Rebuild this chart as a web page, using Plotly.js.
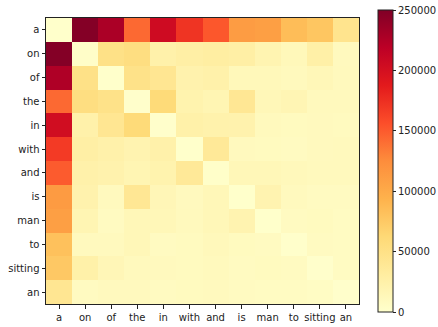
<!DOCTYPE html>
<html><head><meta charset="utf-8">
<script src="https://cdn.plot.ly/plotly-3.0.1.min.js"></script>
<style>html,body{margin:0;padding:0;background:#fff}#chart{width:438px;height:327px}</style>
</head><body><div id="chart"></div>
<script>
const words = ["a","on","of","the","in","with","and","is","man","to","sitting","an"];
const row_a       = [500,248000,228000,143000,205000,172000,152000,112000,110000,85000,78000,45000];
const row_on      = [248000,3000,50000,54000,24000,28000,30000,28000,19000,13000,26000,10000];
const row_of      = [226000,50000,500,48000,42000,22000,24000,13000,13000,11000,14000,11000];
const row_the     = [143000,54000,48000,1000,60000,21000,18000,40000,14000,17000,11000,11000];
const row_in      = [203000,24000,42000,60000,1000,25000,23000,22000,11000,9000,10000,9000];
const row_with    = [168000,28000,24000,20000,24000,500,37000,10000,9000,8000,10000,11000];
const row_and     = [150000,24000,22000,18000,21000,37000,2000,14000,14000,12000,11000,11000];
const row_is      = [113000,22000,10000,40000,15000,10000,14000,500,20000,10000,8000,8000];
const row_man     = [110000,18000,8000,14000,14000,11000,14000,20000,500,8000,9000,7000];
const row_to      = [82000,10000,10000,14000,8000,9000,12000,9000,8000,1000,8000,7000];
const row_sitting = [76000,25000,15000,11000,10000,9000,11000,8000,9000,8000,1000,7000];
const row_an      = [42000,8000,10000,10000,8000,9000,10000,8000,7000,7000,6000,1000];
const cbTicks = [0,50000,100000,150000,200000,250000];

const z = [row_a,row_on,row_of,row_the,row_in,row_with,row_and,row_is,row_man,row_to,row_sitting,row_an];
const ylorrd = [[0,'#ffffcc'],[0.125,'#ffeda0'],[0.25,'#fed976'],[0.375,'#feb24c'],[0.5,'#fd8d3c'],[0.625,'#fc4e2a'],[0.75,'#e31a1c'],[0.875,'#bd0026'],[1,'#800026']];
const font = {family:'DejaVu Sans, sans-serif', size:10, color:'#222'};

Plotly.newPlot('chart',[{
  type:'heatmap', x:words, y:words, z:z, zmin:0, zmax:250000,
  colorscale:ylorrd, hoverinfo:'skip',
  colorbar:{x:1.06, xanchor:'left', y:0.5, yanchor:'middle', len:302, lenmode:'pixels',
    thickness:15, outlinewidth:1, outlinecolor:'#222', tickvals:cbTicks, tickformat:'d',
    ticks:'outside', ticklen:3, tickcolor:'#222', tickfont:font, xpad:0, ypad:0}
}],{
  width:438, height:327, margin:{l:46,r:79,t:18,b:23,autoexpand:false},
  paper_bgcolor:'#fff', plot_bgcolor:'#fff', font:font,
  xaxis:{type:'category', showline:true, mirror:true, linecolor:'#222', linewidth:1,
    ticks:'outside', ticklen:3.5, tickcolor:'#222', showgrid:false, zeroline:false, tickfont:font},
  yaxis:{type:'category', autorange:'reversed', showline:true, mirror:true, linecolor:'#222', linewidth:1,
    ticks:'outside', ticklen:3.5, tickcolor:'#222', showgrid:false, zeroline:false, tickfont:font}
},{staticPlot:true, displayModeBar:false});
</script></body></html>
